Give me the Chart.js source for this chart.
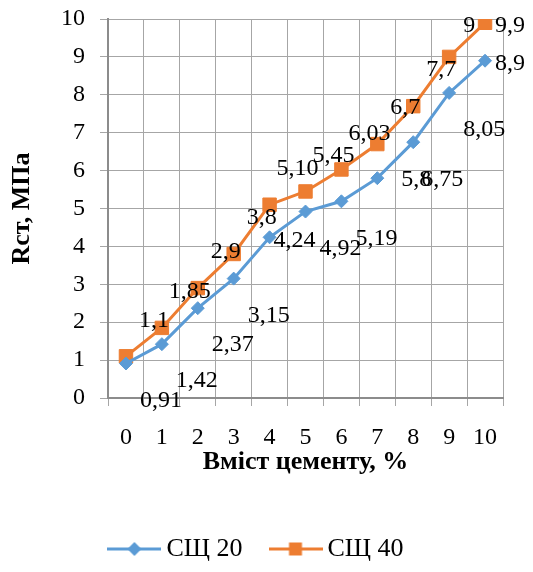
<!DOCTYPE html>
<html>
<head>
<meta charset="utf-8">
<script src="https://cdn.jsdelivr.net/npm/chart.js@4.4.1/dist/chart.umd.min.js"></script>
<style>
  html, body { margin: 0; padding: 0; background: #fff; }
</style>
</head>
<body>
<canvas id="myChart" width="533" height="572"></canvas>
<script>
'use strict'

// === DATA ===
const categories = ['0', '1', '2', '3', '4', '5', '6', '7', '8', '9', '10']
const sch20 = [0.91, 1.42, 2.37, 3.15, 4.24, 4.92, 5.19, 5.8, 6.75, 8.05, 8.9]
const sch40 = [1.1, 1.85, 2.9, 3.8, 5.1, 5.45, 6.03, 6.7, 7.7, 9, 9.9]
const sch20Text = ['0,91', '1,42', '2,37', '3,15', '4,24', '4,92', '5,19', '5,8', '6,75', '8,05', '8,9']
const sch40Text = ['1,1', '1,85', '2,9', '3,8', '5,10', '5,45', '6,03', '6,7', '7,7', '9', '9,9']
const yMin = 0, yMax = 10, yStep = 1

// === STYLE ===
const FONT = '"Liberation Serif", "Times New Roman", serif'
const BLUE = '#5b9bd5'
const ORANGE = '#ed7d31'

// where each data label sits relative to its point
const labelPlaces = {
  br: [35, 37], br2: [29, 38], tr: [28, -36], tr2: [20, -31], r: [25, 3], r2: [39, 2]
}
const sch20Place = ['br', 'br', 'br', 'br', 'r', 'br', 'br', 'r2', 'br2', 'br', 'r']
const sch40Place = ['tr', 'tr', 'tr', 'tr', 'tr', 'tr', 'tr', 'tr', 'tr', 'tr2', 'r']

// legend icon: line with marker in the middle
function legendIcon(color, marker) {
  const c = document.createElement('canvas')
  c.width = 54
  c.height = 16
  const g = c.getContext('2d')
  g.strokeStyle = color
  g.lineWidth = 3
  g.beginPath()
  g.moveTo(0, 8)
  g.lineTo(54, 8)
  g.stroke()
  g.fillStyle = color
  g.beginPath()
  if (marker === 'diamond') {
    g.moveTo(27, 1); g.lineTo(34, 8); g.lineTo(27, 15); g.lineTo(20, 8)
  } else {
    g.rect(20.5, 1.5, 13, 13)
  }
  g.closePath()
  g.fill()
  return c
}
const legendIcons = [legendIcon(BLUE, 'diamond'), legendIcon(ORANGE, 'square')]

// === DATA LABELS ===
const dataLabels = {
  id: 'dataLabels',
  afterDatasetsDraw(chart) {
    const ctx = chart.ctx
    ctx.save()
    ctx.font = '24px ' + FONT
    ctx.fillStyle = '#000'
    ctx.textAlign = 'center'
    ctx.textBaseline = 'middle'
    chart.data.datasets.forEach((ds, i) => {
      chart.getDatasetMeta(i).data.forEach((pt, j) => {
        const off = labelPlaces[ds.labelPlace[j]]
        ctx.fillText(ds.labelText[j], pt.x + off[0], pt.y + off[1])
      })
    })
    ctx.restore()
  }
}

const ctx = document.getElementById('myChart')
const myChart = new Chart(ctx, {
  type: 'line',
  data: {
    labels: categories,
    datasets: [{
      label: 'СЩ 20',
      data: sch20,
      labelText: sch20Text,
      labelPlace: sch20Place,
      borderColor: BLUE,
      backgroundColor: BLUE,
      borderWidth: 3,
      pointStyle: 'rectRot',
      pointRadius: 6.5,
      pointBorderWidth: 1,
      tension: 0
    }, {
      label: 'СЩ 40',
      data: sch40,
      labelText: sch40Text,
      labelPlace: sch40Place,
      borderColor: ORANGE,
      backgroundColor: ORANGE,
      borderWidth: 3,
      pointStyle: 'rect',
      pointRadius: 9.5,
      pointBorderWidth: 1,
      tension: 0
    }]
  },
  options: {
    responsive: false,
    animation: false,
    devicePixelRatio: 1,
    layout: { padding: { top: 19, right: 30, left: 16, bottom: 0 } },
    plugins: {
      tooltip: { enabled: false },
      legend: {
        position: 'bottom',
        labels: {
          usePointStyle: true,
          pointStyleWidth: 38,
          padding: 34,
          color: '#000',
          font: { family: FONT, size: 26 },
          generateLabels(chart) {
            const items = Chart.defaults.plugins.legend.labels.generateLabels(chart)
            items.forEach((it, i) => { it.pointStyle = legendIcons[i] })
            return items
          }
        }
      }
    },
    scales: {
      x: {
        offset: true,
        afterFit(scale) {
          scale.height = 104
          scale.paddingLeft = 0
          scale.paddingRight = 0
        },
        grid: { color: '#a6a6a6', lineWidth: 1, tickLength: 8, offset: true },
        border: { color: '#8c8c8c', width: 2 },
        ticks: { color: '#000', font: { family: FONT, size: 24 }, padding: 17, maxRotation: 0 },
        title: {
          display: true,
          text: 'Вміст цементу, %',
          color: '#000',
          font: { family: FONT, size: 26, weight: 'bold' },
          padding: { top: 0, bottom: 24 }
        }
      },
      y: {
        min: yMin,
        max: yMax,
        afterFit(scale) {
          scale.width = 92
          scale.paddingTop = 0
          scale.paddingBottom = 0
        },
        grid: { color: '#a6a6a6', lineWidth: 1, tickLength: 8 },
        border: { color: '#8c8c8c', width: 2 },
        ticks: { stepSize: yStep, color: '#000', font: { family: FONT, size: 24 }, padding: 15 },
        title: {
          display: true,
          text: 'Rст, МПа',
          color: '#000',
          font: { family: FONT, size: 26, weight: 'bold', lineHeight: 0.5 },
          padding: { top: 0, bottom: 0 }
        }
      }
    }
  },
  plugins: [dataLabels]
})
</script>
</body>
</html>
